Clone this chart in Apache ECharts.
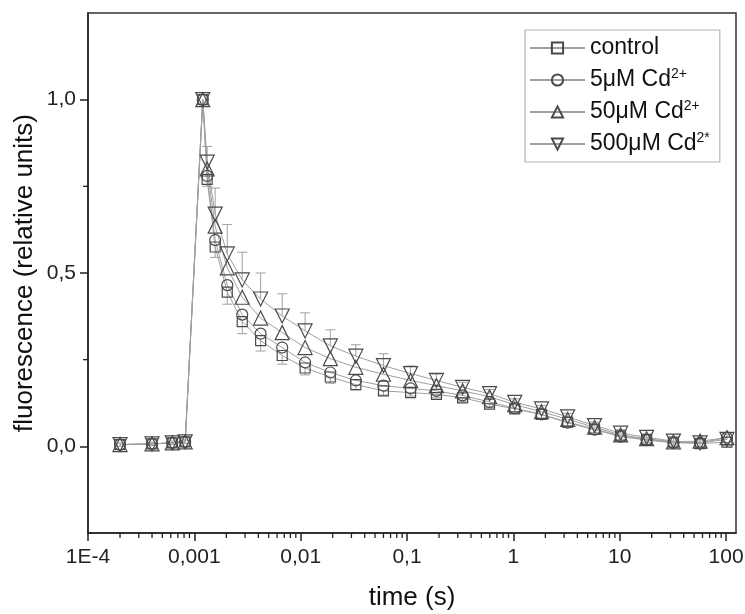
<!DOCTYPE html>
<html>
<head>
<meta charset="utf-8">
<script src="https://cdn.jsdelivr.net/npm/echarts@6/dist/echarts.min.js"></script>
<style>html,body{margin:0;padding:0;background:#fff}#c{width:745px;height:614px}</style>
</head>
<body>
<div id="c"></div>
<script>
// time points (s)
var times = [2e-4, 4e-4, 6.2e-4, 8.2e-4, 1.2e-3, 1.32e-3, 1.57e-3, 2.04e-3, 2.82e-3, 4.2e-3, 6.7e-3, 0.011, 0.019, 0.033, 0.06, 0.108, 0.189, 0.333, 0.597, 1.03, 1.84, 3.24, 5.8, 10.2, 17.9, 32, 57, 102];
var control = [0.005, 0.007, 0.01, 0.013, 1.0, 0.77, 0.575, 0.445, 0.36, 0.305, 0.262, 0.226, 0.2, 0.178, 0.16, 0.155, 0.15, 0.14, 0.122, 0.108, 0.092, 0.07, 0.05, 0.03, 0.02, 0.012, 0.008, 0.012];
var cd5 = [0.005, 0.007, 0.01, 0.013, 1.0, 0.78, 0.595, 0.465, 0.38, 0.325, 0.285, 0.242, 0.213, 0.19, 0.175, 0.167, 0.16, 0.147, 0.128, 0.11, 0.092, 0.068, 0.048, 0.028, 0.018, 0.01, 0.01, 0.025];
var cd50 = [0.005, 0.007, 0.01, 0.013, 1.0, 0.80, 0.635, 0.515, 0.43, 0.37, 0.328, 0.285, 0.253, 0.228, 0.208, 0.19, 0.175, 0.16, 0.143, 0.12, 0.1, 0.078, 0.055, 0.033, 0.022, 0.013, 0.015, 0.025];
var cd500 = [0.005, 0.007, 0.01, 0.013, 1.0, 0.82, 0.67, 0.555, 0.48, 0.425, 0.376, 0.333, 0.29, 0.26, 0.233, 0.21, 0.19, 0.17, 0.152, 0.127, 0.108, 0.085, 0.06, 0.038, 0.026, 0.015, 0.01, 0.02];
// error bars
var errCd500Up = [0.005, 0.005, 0.005, 0.005, 0, 0.045, 0.075, 0.085, 0.08, 0.075, 0.064, 0.052, 0.046, 0.033, 0.034, 0.022, 0.018, 0.015, 0.012, 0.01, 0.01, 0.01, 0.01, 0.01, 0.008, 0.008, 0.01, 0.015];
var errControlDown = [0.005, 0.005, 0.005, 0.005, 0, 0.02, 0.03, 0.035, 0.035, 0.03, 0.025, 0.02, 0.018, 0.015, 0.012, 0.01, 0.01, 0.01, 0.01, 0.01, 0.01, 0.01, 0.01, 0.01, 0.008, 0.008, 0.008, 0.01];
var names = ['control', '5μM Cd2+', '50μM Cd2+', '500μM Cd2*'];
var xTickLabels = {'-4': '1E-4', '-3': '0,001', '-2': '0,01', '-1': '0,1', '0': '1', '1': '10', '2': '100'};
var xMajor = [1e-4, 1e-3, 1e-2, 0.1, 1, 10, 100];
var yTickValues = [0, 0.5, 1.0];
var yMinorValues = [0.25, 0.75];
var X_MIN = 1e-4, X_MAX = 124, Y_MIN = -0.25, Y_MAX = 1.25;

var xMinor = [];
for (var e = -4; e <= 2; e++) {
  for (var k = 2; k <= 9; k++) {
    var v = k * Math.pow(10, e);
    if (v < X_MAX) xMinor.push(+v.toPrecision(3));
  }
}

function pairs(vals) { return times.map(function (t, i) { return [t, vals[i]]; }); }
function errData(vals, errs, sign) { return times.map(function (t, i) { return [t, vals[i], sign * errs[i]]; }); }

var FONT = 'Liberation Sans, Arial, sans-serif';
var lineColor = '#a0a0a0';
var markColor = '#4a4a4a';

function mkSeries(name, vals, symbol, size, rot) {
  return {
    name: name, type: 'line', data: pairs(vals),
    symbol: symbol, symbolSize: size, symbolRotate: rot || 0, showAllSymbol: true,
    lineStyle: { color: lineColor, width: 1 },
    itemStyle: { color: 'rgba(255,255,255,0)', borderColor: markColor, borderWidth: 1.2 },
    emphasis: { disabled: true }, z: 3, animation: false
  };
}
function errSeries(data) {
  return {
    type: 'custom', data: data, z: 2, animation: false, silent: true,
    encode: { x: 0, y: 1 },
    renderItem: function (params, api) {
      var t = api.value(0), y = api.value(1), d = api.value(2);
      if (!d) return null;
      var p0 = api.coord([t, y]);
      var p1 = api.coord([t, y + d]);
      return {
        type: 'group', children: [
          { type: 'line', shape: { x1: p0[0], y1: p0[1], x2: p1[0], y2: p1[1] }, style: { stroke: lineColor, lineWidth: 1 } },
          { type: 'line', shape: { x1: p1[0] - 5, y1: p1[1], x2: p1[0] + 5, y2: p1[1] }, style: { stroke: lineColor, lineWidth: 1 } }
        ]
      };
    }
  };
}
// minor ticks drawn at axis values through the axis scales
function minorTickSeries(data, dx, dy) {
  return {
    type: 'custom', data: data, z: 10, zlevel: 1, animation: false, silent: true, clip: false,
    encode: { x: 0, y: 1 },
    renderItem: function (params, api) {
      var p = api.coord([api.value(0), api.value(1)]);
      return { type: 'line', shape: { x1: p[0], y1: p[1], x2: p[0] + dx, y2: p[1] + dy }, style: { stroke: '#222', lineWidth: 1.3 } };
    }
  };
}

var chart = echarts.init(document.getElementById('c'), null, { renderer: 'canvas' });
chart.setOption({
  animation: false,
  backgroundColor: '#fff',
  grid: { left: 88, right: 9, top: 13, bottom: 81, show: true, borderColor: '#333', borderWidth: 1.5, containLabel: false, outerBoundsMode: 'none' },
  legend: {
    data: names, orient: 'vertical', left: 525, top: 30,
    itemWidth: 55, itemHeight: 14, itemGap: 7,
    padding: [6, 10, 6, 4],
    borderColor: '#b5b5b5', borderWidth: 1.2, backgroundColor: '#fff',
    selectedMode: false,
    textStyle: {
      fontFamily: FONT, fontSize: 23, color: '#111', lineHeight: 24,
      rich: {
        n: { fontFamily: FONT, fontSize: 23, color: '#111' },
        s: { fontFamily: FONT, fontSize: 14, color: '#111', padding: [0, 0, 12, 0] }
      }
    },
    formatter: function (n) {
      if (n === 'control') return '{n|control}';
      var m = n.match(/^(\d+μM Cd)(2.)$/);
      return '{n|' + m[1] + '}{s|' + m[2] + '}';
    }
  },
  xAxis: {
    type: 'log', logBase: 10, min: X_MIN, max: X_MAX, position: 'bottom',
    name: 'time (s)', nameLocation: 'middle', nameGap: 52, nameMoveOverlap: false,
    nameTextStyle: { fontFamily: FONT, fontSize: 26, color: '#111' },
    axisLine: { show: true, onZero: false, lineStyle: { color: '#222', width: 1.5 } },
    axisTick: { show: true, customValues: xMajor, length: 8, lineStyle: { color: '#222', width: 1.5 } },
    axisLabel: {
      customValues: xMajor, margin: 14, fontFamily: FONT, fontSize: 21, color: '#222',
      formatter: function (v) { return xTickLabels[String(Math.round(Math.log10(v)))]; }
    },
    splitLine: { show: false }, minorTick: { show: false }
  },
  yAxis: {
    type: 'value', min: Y_MIN, max: Y_MAX, interval: 0.25, position: 'left',
    name: 'fluorescence (relative units)', nameLocation: 'middle', nameGap: 50, nameMoveOverlap: false,
    nameTextStyle: { fontFamily: FONT, fontSize: 26, color: '#111' },
    axisLine: { show: true, onZero: false, lineStyle: { color: '#222', width: 1.5 } },
    axisTick: { show: true, customValues: yTickValues, length: 8, lineStyle: { color: '#222', width: 1.5 } },
    axisLabel: {
      customValues: yTickValues, margin: 12, fontFamily: FONT, fontSize: 21, color: '#222',
      formatter: function (v) { return v.toFixed(1).replace('.', ','); }
    },
    splitLine: { show: false }
  },
  series: [
    errSeries(errData(control, errControlDown, -1)),
    errSeries(errData(cd500, errCd500Up, 1)),
    mkSeries(names[0], control, 'rect', 10),
    mkSeries(names[1], cd5, 'circle', 11),
    mkSeries(names[2], cd50, 'triangle', 14),
    mkSeries(names[3], cd500, 'triangle', 14, 180),
    minorTickSeries(xMinor.map(function (v) { return [v, Y_MIN]; }), 0, 5),
    minorTickSeries(yMinorValues.map(function (v) { return [X_MIN, v]; }), -5, 0)
  ]
});
</script>
</body>
</html>
